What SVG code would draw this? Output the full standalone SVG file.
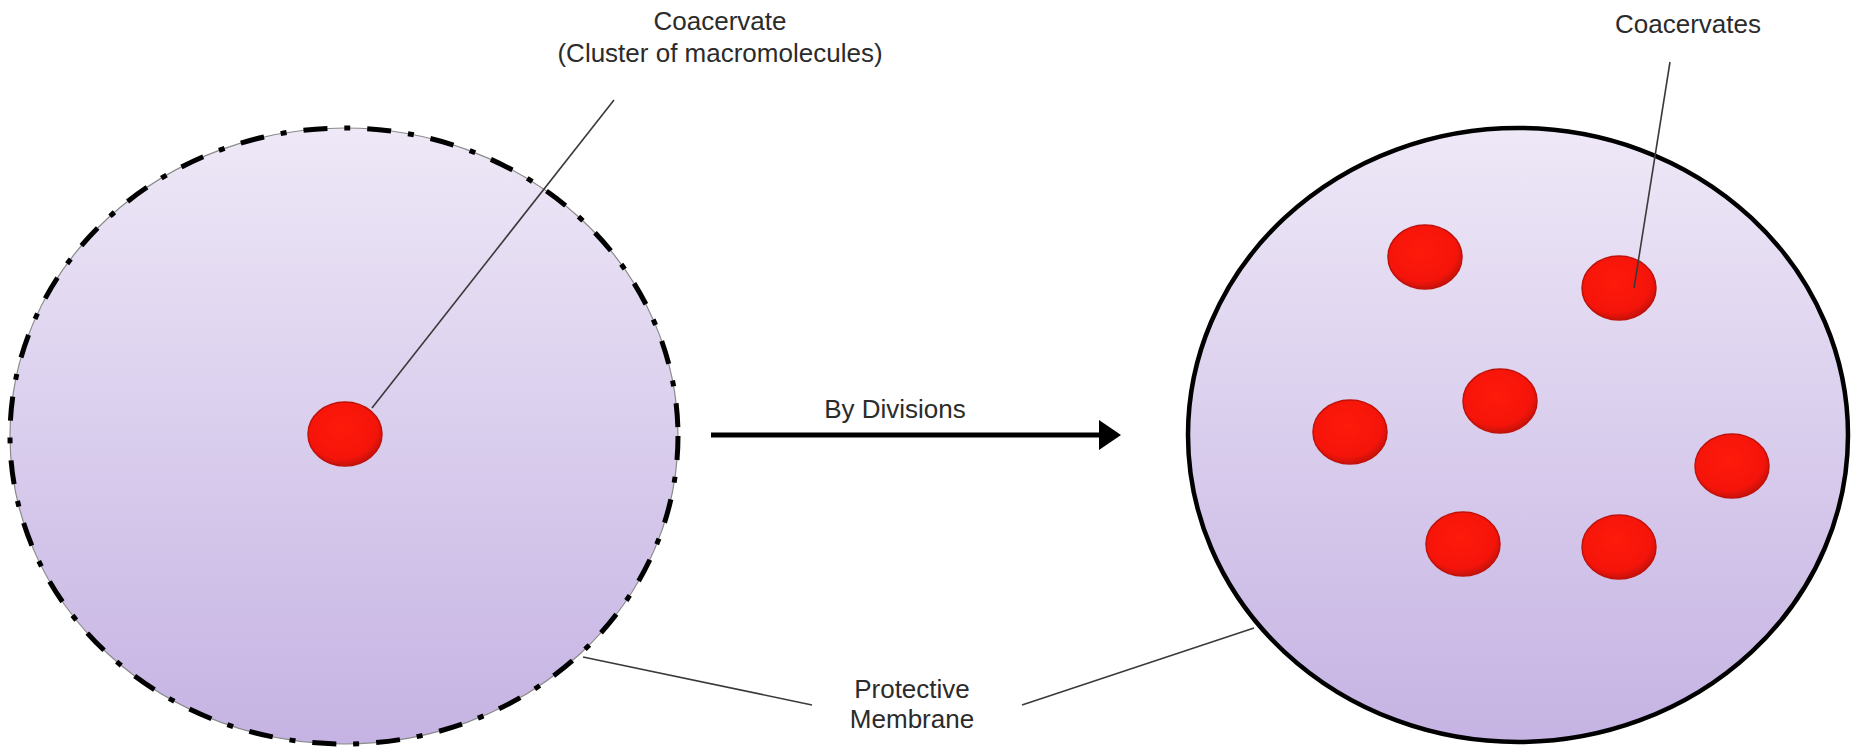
<svg xmlns="http://www.w3.org/2000/svg" width="1855" height="754" viewBox="0 0 1855 754">
<defs>
<linearGradient id="cellFill" x1="0" y1="0" x2="0" y2="1">
<stop offset="0" stop-color="#eee8f7"/>
<stop offset="1" stop-color="#c5b3e3"/>
</linearGradient>
<radialGradient id="dotFill" cx="0.45" cy="0.4" r="0.6">
<stop offset="0" stop-color="#ff1a0a"/>
<stop offset="0.8" stop-color="#f5140a"/>
<stop offset="1" stop-color="#c8120a"/>
</radialGradient>
<marker id="arrowHead" markerWidth="6" markerHeight="6" refX="3" refY="3" orient="auto" markerUnits="strokeWidth">
<path d="M0,0 L4.4,3 L0,6 Z" fill="#000"/>
</marker>
</defs>
<style>
text { font-family: "Liberation Sans", Arial, sans-serif; font-size: 26px; fill: #2b2b2b; }
.leader { stroke: #3a3a3a; stroke-width: 1.6; fill: none; }
.dot { fill: url(#dotFill); stroke: #c0120a; stroke-width: 1.5; }
</style>
<rect width="1855" height="754" fill="#ffffff"/>
<g id="cell-before">
<ellipse cx="344" cy="436" rx="334" ry="308" fill="url(#cellFill)" stroke="#8a8a8a" stroke-width="1.2"/>
<ellipse cx="344" cy="436" rx="334" ry="308" fill="none" stroke="#000" stroke-width="5" stroke-dasharray="24 17 6 17"/>
<ellipse class="dot" cx="345" cy="434" rx="37" ry="32"/>
</g>
<g id="cell-after">
<ellipse cx="1518" cy="435" rx="330" ry="307" fill="url(#cellFill)" stroke="#000" stroke-width="4.5"/>
<ellipse class="dot" cx="1425" cy="257" rx="37" ry="32"/>
<ellipse class="dot" cx="1619" cy="288" rx="37" ry="32"/>
<ellipse class="dot" cx="1500" cy="401" rx="37" ry="32"/>
<ellipse class="dot" cx="1350" cy="432" rx="37" ry="32"/>
<ellipse class="dot" cx="1732" cy="466" rx="37" ry="32"/>
<ellipse class="dot" cx="1463" cy="544" rx="37" ry="32"/>
<ellipse class="dot" cx="1619" cy="547" rx="37" ry="32"/>
</g>
<g id="label-coacervate">
<text x="720" y="30" text-anchor="middle">Coacervate</text>
<text x="720" y="62" text-anchor="middle">(Cluster of macromolecules)</text>
</g>
<g id="label-coacervates">
<text x="1688" y="33" text-anchor="middle">Coacervates</text>
</g>
<g id="label-membrane">
<text x="912" y="698" text-anchor="middle">Protective</text>
<text x="912" y="728" text-anchor="middle">Membrane</text>
</g>
<g id="label-division">
<text x="895" y="418" text-anchor="middle">By Divisions</text>
</g>
<g id="connectors">
<line class="leader" x1="614" y1="100" x2="372" y2="408"/>
<line class="leader" x1="1670" y1="62" x2="1634" y2="288"/>
<line class="leader" x1="583" y1="657" x2="812" y2="705"/>
<line class="leader" x1="1022" y1="705" x2="1254" y2="628"/>
<line x1="711" y1="435" x2="1114" y2="435" stroke="#000" stroke-width="5" marker-end="url(#arrowHead)"/>
</g>
</svg>
